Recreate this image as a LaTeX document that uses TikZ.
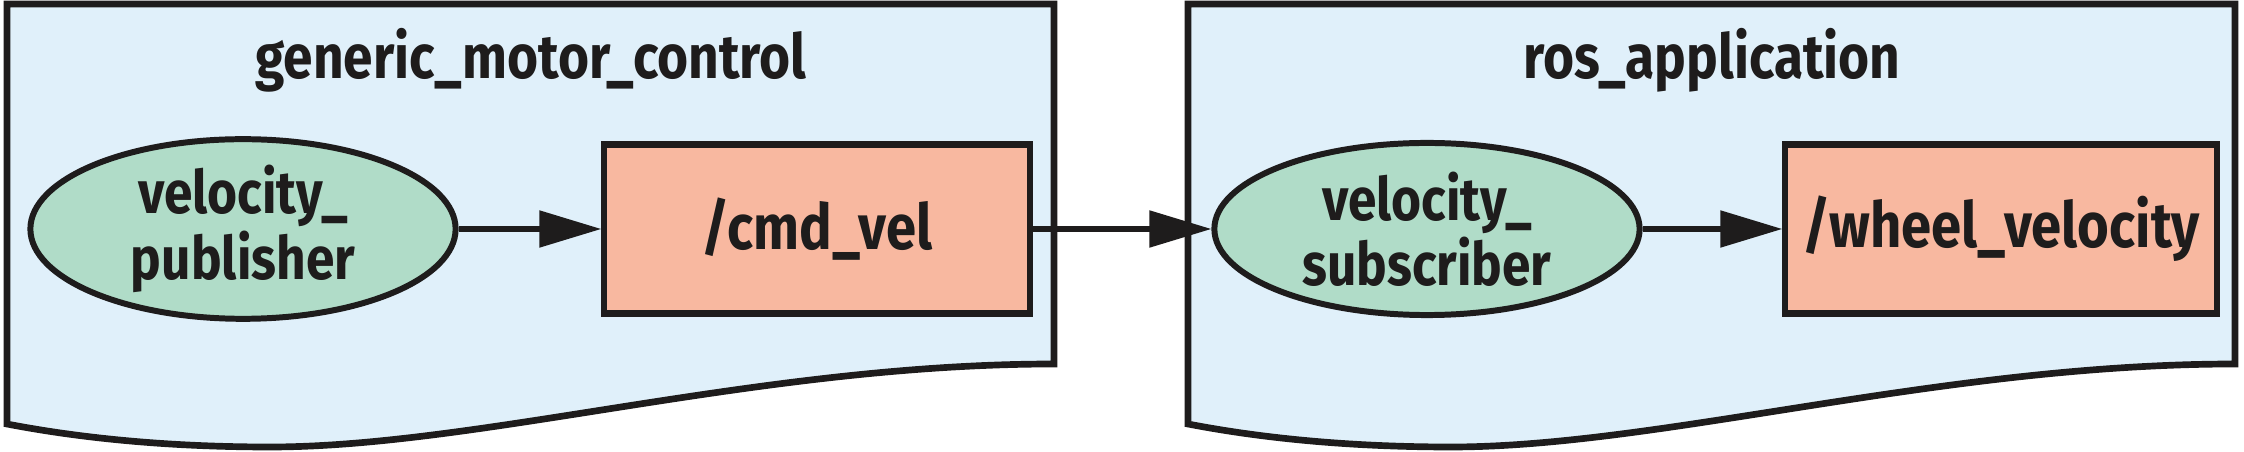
\documentclass[tikz,border=0pt]{standalone}
\usepackage{fontspec}
\setmainfont{Fira Sans}[FakeStretch=0.86]
\usetikzlibrary{shapes.geometric,arrows.meta}

\definecolor{pkgblue}{HTML}{E0F0FA}
\definecolor{nodegreen}{HTML}{B0DCC8}
\definecolor{topicred}{HTML}{F8B8A0}
\definecolor{edge}{HTML}{1E1C1C}

\begin{document}
\begin{tikzpicture}[x=0.01cm,y=-0.01cm,
    pkg/.style={fill=pkgblue, draw=edge, line width=1.9pt},
    pkgtitle/.style={anchor=base, font=\fontsize{17.6}{17.6}\selectfont\bfseries, text=edge},
    rosnode/.style={ellipse, draw=edge, fill=nodegreen, line width=1.7pt, inner sep=0pt,
        minimum width=4.25cm, minimum height=1.72cm, align=center,
        font=\fontsize{17}{14.2}\selectfont\bfseries, text=edge},
    topic/.style={rectangle, draw=edge, fill=topicred, line width=1.75pt, inner sep=0pt,
        minimum height=1.69cm, align=center,
        font=\fontsize{18}{18}\selectfont\bfseries, text=edge},
    msg/.style={draw=edge, line width=1.5pt, -{Triangle[length=0.62cm, width=0.36cm]}}
    ]
    \useasboundingbox (0,0) rectangle (2244,452);

    % packages, wavy bottom
    \draw[pkg] (7,4) -- (1054,4) -- (1054,364)
        .. controls (760,364) and (480,447) .. (270,447)
        .. controls (180,447) and (90,440) .. (7,424) -- cycle;
    \draw[pkg, shift={(1181,0)}] (7,4) -- (1054,4) -- (1054,364)
        .. controls (760,364) and (480,447) .. (270,447)
        .. controls (180,447) and (90,440) .. (7,424) -- cycle;

    \node[pkgtitle] (gmc) at (531,79) {generic\_motor\_control};
    \node[pkgtitle] (app) at (1712,79) {ros\_application};

    % nodes and topics
    \node[rosnode] (pub) at (243,229) {velocity\_\\publisher};
    \node[topic, minimum width=4.25cm] (cmd) at (817,229) {/cmd\_vel};
    \node[rosnode] (sub) at (1427,229) {velocity\_\\subscriber};
    \node[topic, minimum width=4.31cm] (wheel) at (2001,229) {/wheel\_velocity};

    \draw[msg] (pub) -- (cmd);
    \draw[msg] (cmd) -- (sub);
    \draw[msg] (sub) -- (wheel);
\end{tikzpicture}
\end{document}
